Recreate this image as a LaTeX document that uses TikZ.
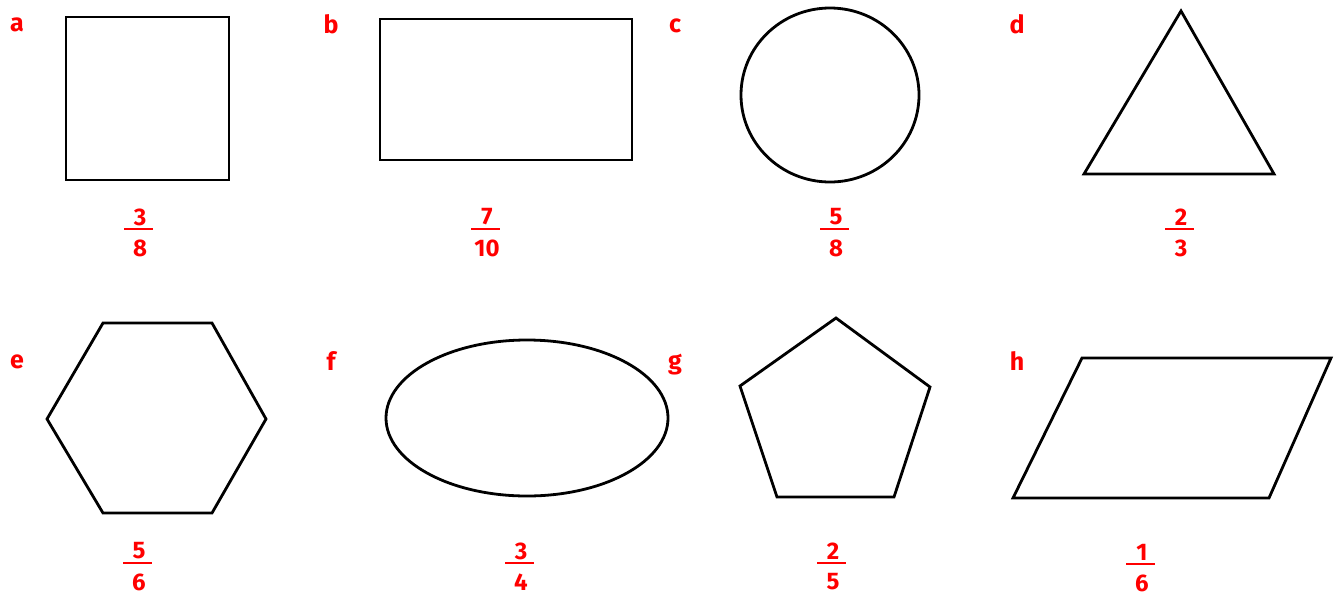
\documentclass[tikz,border=0pt]{standalone}
\usepackage{fontspec}
\setmainfont{Fira Sans}
\definecolor{lbl}{RGB}{255,0,0}
\tikzset{
  shp/.style={draw=black, line width=2.8pt, line join=miter},
  tag/.style={text=lbl, font=\fontsize{25}{29}\selectfont\bfseries, inner sep=0pt},
  num/.style={text=lbl, font=\fontsize{24}{28}\selectfont\bfseries, inner sep=0pt},
  bar/.style={draw=lbl, line width=2.8pt}
}
\newcommand{\frc}[5]{%
  \node[num] (#1n) at (#2,#3-12) {#4};
  \node[num] (#1d) at (#2,#3+19) {#5};
  \draw[bar] (#2-16,#3) -- (#2+13,#3);
}
\begin{document}
\begin{tikzpicture}[x=1pt,y=-1pt]
\useasboundingbox (0,0) rectangle (1341,595);
% labels
\node[tag] (la) at (17,25) {a};
\node[tag] (lb) at (331,24) {b};
\node[tag] (lc) at (675,26) {c};
\node[tag] (ld) at (1017,24) {d};
\node[tag] (le) at (17,362) {e};
\node[tag] (lf) at (331,361) {f};
\node[tag] (lg) at (675,365) {g};
\node[tag] (lh) at (1017,361) {h};
% shapes
\draw[shp] (66,17) rectangle (229,180);
\draw[shp] (380,19) rectangle (632,160);
\draw[shp] (830,95) ellipse [x radius=89, y radius=87];
\draw[shp] (1181,11) -- (1274,174) -- (1084,174) -- cycle;
\draw[shp] (103,323) -- (212,323) -- (266,419) -- (212,513) -- (103,513) -- (47,419) -- cycle;
\draw[shp] (527,418) ellipse [x radius=141, y radius=78];
\draw[shp] (836,318) -- (930,387) -- (894,497) -- (777,497) -- (740,386) -- cycle;
\draw[shp] (1082,358) -- (1331,358) -- (1269,498) -- (1013,498) -- cycle;
% fractions
\frc{fa}{140}{229}{3}{8}
\frc{fb}{487}{229}{7}{10}
\frc{fc}{836}{229}{5}{8}
\frc{fd}{1181}{229}{2}{3}
\frc{fe}{139}{563}{5}{6}
\frc{ff}{521}{563}{3}{4}
\frc{fg}{833}{563}{2}{5}
\frc{fh}{1142}{564}{1}{6}
\end{tikzpicture}
\end{document}
